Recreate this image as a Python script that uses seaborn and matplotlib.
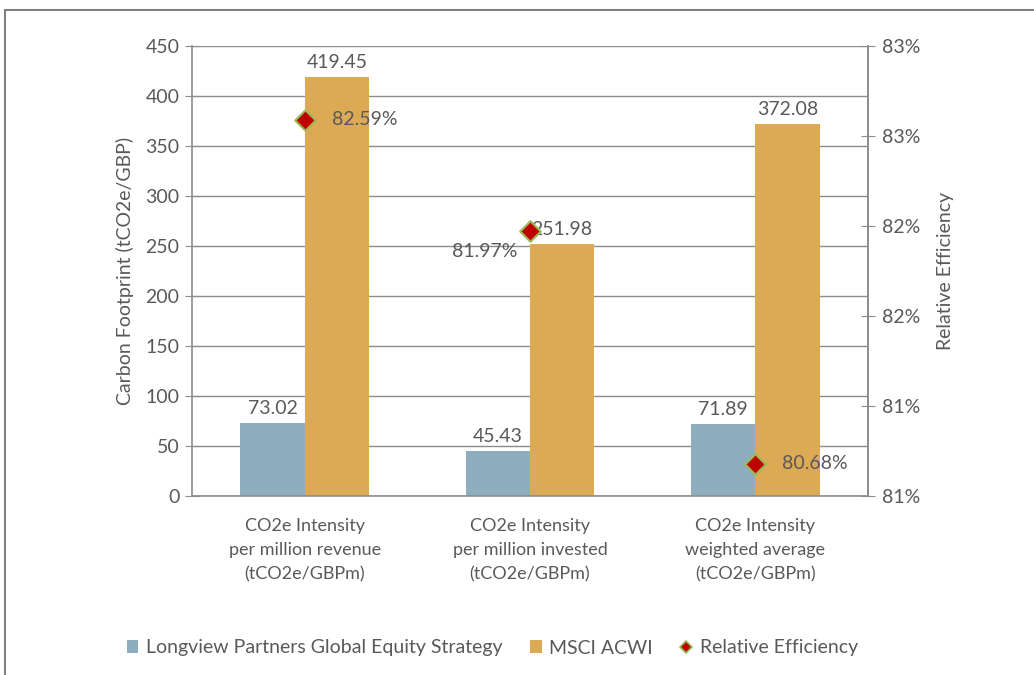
import numpy as np
import pandas as pd
import matplotlib
matplotlib.use('Agg')
import matplotlib.pyplot as plt
from matplotlib.lines import Line2D
from matplotlib.patches import Patch, Rectangle
from matplotlib.ticker import FixedLocator, FuncFormatter
import seaborn as sns

# data
categories = ['CO2e Intensity\nper million revenue\n(tCO2e/GBPm)',
              'CO2e Intensity\nper million invested\n(tCO2e/GBPm)',
              'CO2e Intensity\nweighted average\n(tCO2e/GBPm)']
series_names = ['Longview Partners Global Equity Strategy', 'MSCI ACWI']
longview = [73.02, 45.43, 71.89]
msci = [419.45, 251.98, 372.08]
efficiency = [82.59, 81.97, 80.68]

blue = '#8EADBE'
orange = '#DCA954'
grey_txt = '#595959'
grey_line = '#8C8C8C'

sns.set_style('white')
plt.rcParams['font.family'] = ['Lato', 'DejaVu Sans']
plt.rcParams['font.size'] = 14

df = pd.DataFrame({
    'cat': categories * 2,
    'series': [series_names[0]] * 3 + [series_names[1]] * 3,
    'value': longview + msci,
})

fig = plt.figure(figsize=(10.34, 6.75), dpi=100)
ax = fig.add_axes([0.1857, 0.2652, 0.8395 - 0.1857, 0.9319 - 0.2652])

sns.barplot(data=df, x='cat', y='value', hue='series', ax=ax,
            palette=[blue, orange], width=0.57, gap=0, saturation=1,
            legend=False, linewidth=0)

ax.set_ylim(0, 450)
ax.set_xlim(-0.5, 2.5)
ax.set_yticks(np.arange(0, 451, 50))
ax.grid(axis='y', color=grey_line, linewidth=1)
ax.set_axisbelow(True)
ax.set_xlabel('')
ax.set_ylabel('Carbon Footprint (tCO2e/GBP)', color=grey_txt, fontsize=14, labelpad=8)
ax.tick_params(axis='y', direction='inout', length=10, color=grey_line,
               labelcolor=grey_txt, labelsize=14, pad=4)
ax.tick_params(axis='x', length=0, labelcolor=grey_txt, labelsize=13, pad=16)
ax.xaxis.set_minor_locator(FixedLocator([0.5, 1.5]))
ax.tick_params(axis='x', which='minor', direction='out', length=6, color=grey_line)
for s in ['left', 'bottom', 'right']:
    ax.spines[s].set_color(grey_line)
    ax.spines[s].set_linewidth(1.2)
ax.spines['top'].set_visible(False)
for lbl in ax.get_xticklabels():
    lbl.set_linespacing(1.6)

# bar value labels
for i in range(3):
    ax.text(i - 0.57 / 4, longview[i] + 6, f'{longview[i]:.2f}', ha='center',
            va='bottom', color=grey_txt, fontsize=14)
    ax.text(i + 0.57 / 4, msci[i] + 6, f'{msci[i]:.2f}', ha='center',
            va='bottom', color=grey_txt, fontsize=14)

# secondary axis
ax2 = ax.twinx()
ax2.set_position(ax.get_position())
sns.scatterplot(x=[0, 1, 2], y=efficiency, ax=ax2, marker='D', s=110,
                color='#C00000', edgecolor='#9BBB59', linewidth=1.5, zorder=5)
ax2.set_ylim(80.5, 83.0)
ax2.set_yticks(np.arange(80.5, 83.01, 0.5))
ax2.yaxis.set_major_formatter(FuncFormatter(lambda v, p: f'{int(v + 0.5 + 1e-9)}%'))
ax2.set_ylabel('Relative Efficiency', color=grey_txt, fontsize=14, labelpad=12)
ax2.tick_params(axis='y', direction='inout', length=10, color=grey_line,
                labelcolor=grey_txt, labelsize=14, pad=5)
for s in ax2.spines.values():
    s.set_visible(False)
ax2.spines['right'].set_visible(True)
ax2.spines['right'].set_color(grey_line)
ax2.spines['right'].set_linewidth(1.2)

offsets = [(0.12, 0.0), (-0.055, -0.11), (0.12, 0.0)]
has = ['left', 'right', 'left']
for i in range(3):
    dx, dy = offsets[i]
    ax2.text(i + dx, efficiency[i] + dy, f'{efficiency[i]:.2f}%', ha=has[i],
             va='center', color=grey_txt, fontsize=14, zorder=6)

# legend
handles = [Patch(facecolor=blue, edgecolor='none', label=series_names[0]),
           Patch(facecolor=orange, edgecolor='none', label=series_names[1]),
           Line2D([], [], marker='D', linestyle='none', markersize=6,
                  markerfacecolor='#C00000', markeredgecolor='#9BBB59',
                  markeredgewidth=1.2, label='Relative Efficiency')]
fig.legend(handles=handles, loc='center', bbox_to_anchor=(0.476, 0.04), ncol=3,
           frameon=False, fontsize=14, handlelength=0.6, handleheight=0.6,
           handletextpad=0.4, columnspacing=1.4, labelcolor=grey_txt)

# outer border
fig.patches.append(Rectangle((5 / 1034, -0.1), 1.2, 1 - 10 / 675 + 0.1,
                             transform=fig.transFigure, fill=False,
                             edgecolor='#7F7F7F', linewidth=1.5))

fig.savefig('out.png', dpi=100)
